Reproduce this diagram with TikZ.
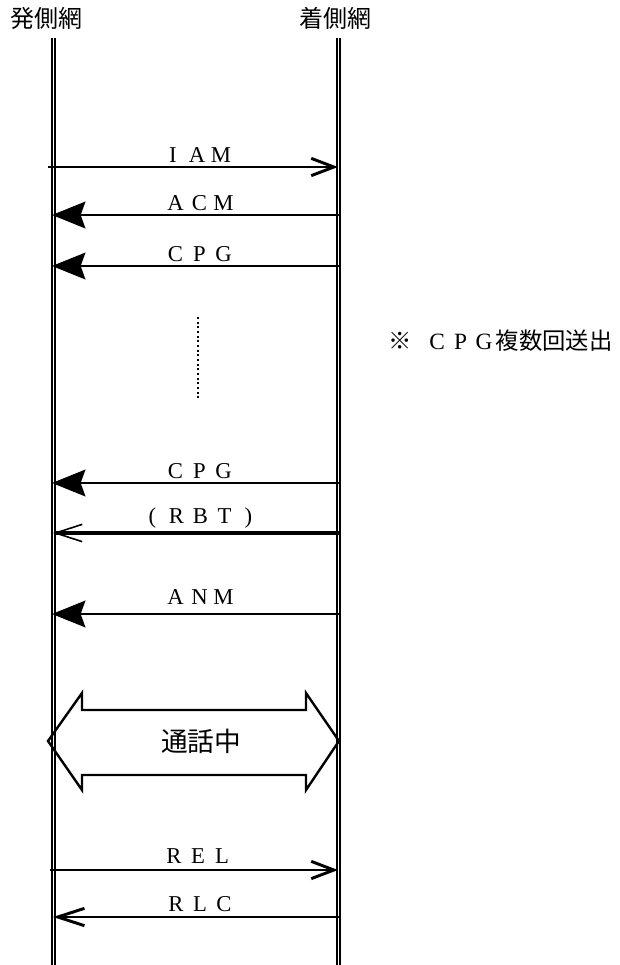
\documentclass[tikz,border=0pt]{standalone}
\usepackage{fontspec}
\setmainfont{Liberation Serif}
\newfontfamily\cjk{Noto Sans CJK JP}
\usetikzlibrary{arrows.meta}
\newcommand\zw[1]{\makebox[18pt]{#1}}

\begin{document}
\begin{tikzpicture}[x=0.75pt,y=-0.75pt,
  lifeline/.style={double,double distance=1pt,line width=1.5pt},
  sendmsg/.style={line width=2.2pt,-{Straight Barb[length=17pt,width=13pt]}},
  fillmsg/.style={line width=1.8pt,-{Stealth[length=25pt,width=20pt,inset=3.5pt]}},
  tonemsg/.style={line width=3.2pt,-{Straight Barb[length=20pt,width=13pt,line width=1.2pt]}},
  lbl/.style={inner sep=0pt,xshift=3pt,font=\fontsize{17pt}{20pt}\selectfont},
  hdr/.style={inner sep=0pt,font=\cjk\fontsize{18pt}{20pt}\selectfont}]
\useasboundingbox (0,0) rectangle (620,965);

\node [hdr] (orig) at (47,18) {発側網};
\node [hdr] (term) at (335,18) {着側網};

\coordinate (Ltop) at (53.4,38);\coordinate (Lbot) at (53.4,965);
\coordinate (Rtop) at (338.4,38);\coordinate (Rbot) at (338.4,965);
\draw [lifeline] (Ltop)--(Lbot);
\draw [lifeline] (Rtop)--(Rbot);

\coordinate (iamL) at (48,167);\coordinate (iamR) at (338,167);
\coordinate (acmL) at (52,215);\coordinate (acmR) at (339,215);
\coordinate (cpgL) at (52,266);\coordinate (cpgR) at (339,266);
\coordinate (cpgnL) at (52,483);\coordinate (cpgnR) at (339,483);
\coordinate (rbtL) at (53,533);\coordinate (rbtR) at (340,533);
\coordinate (anmL) at (52,614);\coordinate (anmR) at (339,614);
\coordinate (relL) at (50,870);\coordinate (relR) at (338,870);
\coordinate (rlcL) at (53,917);\coordinate (rlcR) at (339,917);

\draw [sendmsg] (iamL)-- node[lbl,above=2.25pt] {\zw{I}\zw{A}\zw{M}} (iamR);
\draw [fillmsg] (acmR)-- node[lbl,above=2.5pt] {\zw{A}\zw{C}\zw{M}} (acmL);
\draw [fillmsg] (cpgR)-- node[lbl,above=2.25pt] {\zw{C}\zw{P}\zw{G}} (cpgL);

\coordinate (dotTop) at (198,317);\coordinate (dotBot) at (198,400);
\draw [dotted,line width=1.5pt] (dotTop)--(dotBot);
\node [anchor=west,inner sep=0pt,font=\fontsize{17.5pt}{20pt}\selectfont] (note) at (388,341)
  {{\cjk ※}\hspace{10.3pt}\makebox[17.6pt]{C}\makebox[17.6pt]{P}\makebox[17.6pt]{G}{\cjk 複数回送出}};

\draw [fillmsg] (cpgnR)-- node[lbl,above=2.25pt] {\zw{C}\zw{P}\zw{G}} (cpgnL);
\draw [tonemsg] (rbtR)-- node[lbl,above=2pt] {\zw{(}\zw{R}\zw{B}\zw{T}\zw{)}} (rbtL);
\draw [fillmsg] (anmR)-- node[lbl,above=6.5pt] {\zw{A}\zw{N}\zw{M}} (anmL);

% talk
\draw [line width=1.8pt,line join=miter] (48,741)--(82,693)--(82,710)--(306,710)--(306,693)--(339,741)
  --(306,790)--(306,775)--(82,775)--(82,790)--cycle;
\node [inner sep=0pt,font=\cjk\fontsize{20pt}{22pt}\selectfont] (talk) at (201,741) {通話中};

\draw [sendmsg] (relL)-- node[lbl,above=3.5pt] {\zw{R}\zw{E}\zw{L}} (relR);
\draw [sendmsg,-{Straight Barb[length=20pt,width=13pt]}] (rlcR)-- node[lbl,above=3pt] {\zw{R}\zw{L}\zw{C}} (rlcL);

\end{tikzpicture}
\end{document}
